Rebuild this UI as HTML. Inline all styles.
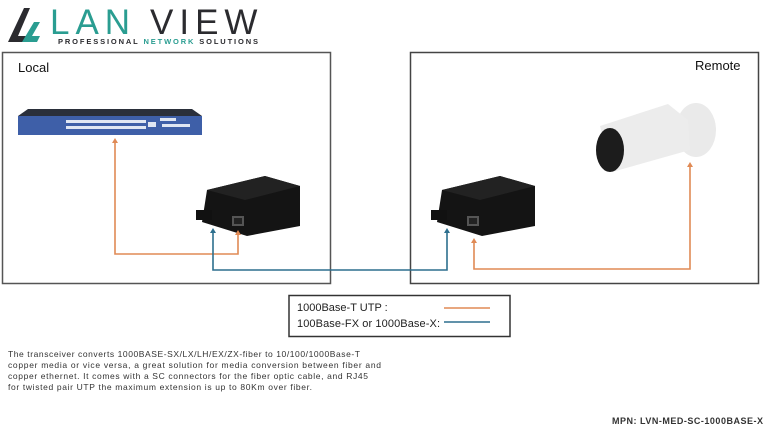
<!DOCTYPE html>
<html><head><meta charset="utf-8"><style>
body{margin:0;width:768px;height:429px;background:#fff;overflow:hidden;position:relative;font-family:"Liberation Sans",sans-serif}
.a{position:absolute}
</style></head><body>
<svg class="a" style="left:0;top:0" width="768" height="429">
<!-- logo -->
<polygon points="8,42 24,8 30,8 18,36 34,36 31,42" fill="#2b2b2f"/>
<polygon points="22,42 34,22 40,22 32,36 40,36 37,42" fill="#2a9d91"/>
<text x="50" y="34" font-size="35" font-family="Liberation Sans" fill="#2a9d91" letter-spacing="6">LAN</text>
<text x="150" y="34" font-size="35" font-family="Liberation Sans" fill="#2b2b2f" letter-spacing="6">VIEW</text>
<text x="58" y="44" font-size="7.5" font-weight="bold" fill="#2b2b2f" textLength="200">PROFESSIONAL <tspan fill="#2a9d91">NETWORK</tspan> SOLUTIONS</text>
<!-- boxes -->
<rect x="2.5" y="52.5" width="328" height="231" fill="none" stroke="#555" stroke-width="1.5"/>
<rect x="410.5" y="52.5" width="348" height="231" fill="none" stroke="#444" stroke-width="1.5"/>
<text x="18" y="72" font-size="13" fill="#111">Local</text>
<text x="695" y="70" font-size="13" fill="#111">Remote</text>
<!-- switch -->
<polygon points="28,109 192,109 202,116 18,116" fill="#2a2f3a"/>
<rect x="18" y="116" width="184" height="19" fill="#3e5fa8"/>
<g fill="#dfe6f3"><rect x="66" y="120" width="80" height="3"/><rect x="66" y="126" width="80" height="3"/><rect x="148" y="122" width="8" height="5"/><rect x="162" y="124" width="28" height="3"/><rect x="160" y="118" width="16" height="3"/></g>
<!-- converters -->
<g id="c">
<polygon points="207,190 265,176 300,186 300,226 247,236 202,222" fill="#141414"/>
<polygon points="207,190 265,176 300,186 245,200" fill="#222"/>
<rect x="196" y="210" width="16" height="10" fill="#111"/>
<rect x="232" y="216" width="12" height="10" fill="#555"/>
<rect x="234" y="218" width="8" height="6" fill="#222"/>
</g>
<use href="#c" x="235" y="0"/>
<!-- camera -->
<ellipse cx="696" cy="130" rx="20" ry="27" fill="#eaeaea"/>
<polygon points="600,126 668,104 688,120 690,150 612,172" fill="#ececec"/>
<ellipse cx="610" cy="150" rx="14" ry="22" fill="#1c1c1c"/>
<!-- lines -->
<polyline points="115,140 115,254 238,254 238,232" fill="none" stroke="#e08a55" stroke-width="1.6"/>
<polyline points="213,230 213,270 447,270 447,230" fill="none" stroke="#2d6f8e" stroke-width="1.6"/>
<polyline points="474,240 474,269 690,269 690,164" fill="none" stroke="#e08a55" stroke-width="1.6"/>
<g fill="#e08a55"><polygon points="112,143 115,138 118,143"/><polygon points="235,235 238,230 241,235"/><polygon points="471,243 474,238 477,243"/><polygon points="687,167 690,162 693,167"/></g>
<g fill="#2d6f8e"><polygon points="210,233 213,228 216,233"/><polygon points="444,233 447,228 450,233"/></g>
<!-- legend -->
<rect x="289" y="295.5" width="221" height="41" fill="none" stroke="#333" stroke-width="1.5"/>
<text x="297" y="311" font-size="11" fill="#222">1000Base-T UTP :</text>
<text x="297" y="327" font-size="11" fill="#222" textLength="143">100Base-FX or 1000Base-X:</text>
<line x1="444" y1="308" x2="490" y2="308" stroke="#e08a55" stroke-width="1.5"/>
<line x1="444" y1="322" x2="490" y2="322" stroke="#2d6f8e" stroke-width="1.5"/>
<g font-size="8.5" fill="#333">
<text x="8" y="357" textLength="352">The transceiver converts 1000BASE-SX/LX/LH/EX/ZX-fiber to 10/100/1000Base-T</text>
<text x="8" y="368" textLength="373">copper media or vice versa, a great solution for media conversion between fiber and</text>
<text x="8" y="379" textLength="360">copper ethernet. It comes with a SC connectors for the fiber optic cable, and RJ45</text>
<text x="8" y="390" textLength="304">for twisted pair UTP the maximum extension is up to 80Km over fiber.</text>
</g>
<text x="612" y="424" font-size="9" font-weight="bold" fill="#333" textLength="151">MPN: LVN-MED-SC-1000BASE-X</text>
</svg>
</body></html>
